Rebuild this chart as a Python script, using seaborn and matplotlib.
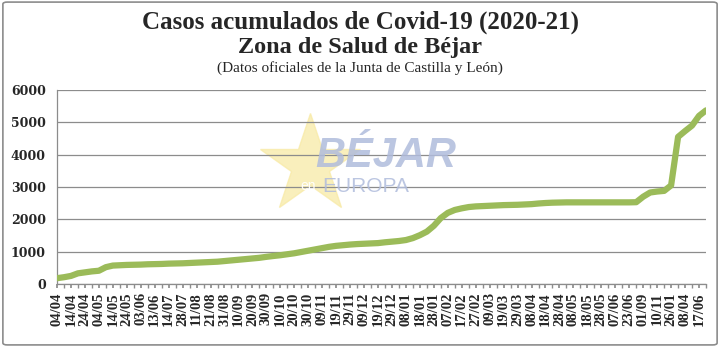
import numpy as np
import pandas as pd
import matplotlib
matplotlib.use("Agg")
import matplotlib.pyplot as plt
import seaborn as sns
from matplotlib.patches import FancyBboxPatch
from matplotlib.lines import Line2D

# ---- data ----
tick_labels = ["04/04", "14/04", "24/04", "04/05", "14/05", "24/05", "03/06", "13/06",
               "14/07", "28/07", "11/08", "21/08", "31/08", "10/09", "20/09", "30/09",
               "10/10", "20/10", "30/10", "09/11", "19/11", "29/11", "09/12", "19/12",
               "29/12", "08/01", "18/01", "28/01", "07/02", "17/02", "27/02", "09/03",
               "19/03", "29/03", "08/04", "18/04", "28/04", "08/05", "18/05", "28/05",
               "07/06", "23/06", "01/09", "10/11", "26/01", "08/04", "17/06"]

casos = [180, 210, 250, 330, 360, 390, 410, 520, 570, 580,
         590, 595, 600, 610, 615, 620, 630, 635, 640, 650,
         660, 670, 680, 690, 710, 730, 750, 770, 790, 810,
         840, 866, 890, 920, 950, 990, 1030, 1070, 1110, 1150,
         1180, 1200, 1220, 1235, 1245, 1255, 1265, 1290, 1310, 1330,
         1360, 1420, 1510, 1620, 1800, 2040, 2200, 2290, 2340, 2380,
         2400, 2410, 2420, 2430, 2440, 2445, 2450, 2460, 2470, 2490,
         2505, 2515, 2520, 2525, 2525, 2525, 2525, 2525, 2525, 2525,
         2525, 2525, 2525, 2530, 2700, 2830, 2860, 2880, 3050, 4550,
         4730, 4900, 5200, 5370]

title1 = "Casos acumulados de Covid-19 (2020-21)"
title2 = "Zona de Salud de Béjar"
title3 = "(Datos oficiales de la Junta de Castilla y León)"

df = pd.DataFrame({"idx": np.arange(len(casos)), "casos": casos})

sns.set_theme(style="white")
plt.rcParams["font.family"] = ["Liberation Serif", "DejaVu Serif"]

fig = plt.figure(figsize=(7.2, 3.47), dpi=100)
ax = fig.add_axes([57 / 720, 1 - 284 / 347, (706 - 57) / 720, (284 - 90) / 347])

# chart-area border
fig.add_artist(FancyBboxPatch((0.004, 0.006), 0.992, 0.988, boxstyle="round,pad=0,rounding_size=0.006",
                              transform=fig.transFigure, fill=False, edgecolor="#8c8c8c", lw=1.2))

# watermark (decoration)
fig.add_artist(Line2D([310 / 720], [1 - 165 / 347], marker="*", markersize=75,
                      color="#f8eaa6", alpha=0.75, lw=0, transform=fig.transFigure, zorder=0))
wm = dict(transform=fig.transFigure, zorder=0)
fig.text(386 / 720, 1 - 156 / 347, "BÉJAR", fontsize=30, color="#b0bcdc", alpha=0.85,
         ha="center", va="center", family="Liberation Sans", weight="bold", style="italic", **wm)
fig.text(366 / 720, 1 - 187 / 347, "EUROPA", fontsize=15, color="#b0bcdc", alpha=0.85,
         ha="center", va="center", family="Liberation Sans", **wm)
fig.text(308 / 720, 1 - 186 / 347, "en", fontsize=10, color="white", alpha=0.95,
         ha="center", va="center", family="Liberation Sans", **wm)

ax.patch.set_alpha(0)
sns.lineplot(data=df, x="idx", y="casos", ax=ax, color="#9bbb59", lw=4.5,
             solid_capstyle="round", solid_joinstyle="round", zorder=3)

ax.set_xlim(0, len(casos) - 1)
ax.set_ylim(0, 6000)
ax.set_yticks(range(0, 6001, 1000))
ax.set_yticklabels([str(v) for v in range(0, 6001, 1000)], family="DejaVu Serif",
                   weight="bold", fontsize=9)
ax.set_xticks(np.arange(0, 2 * len(tick_labels), 2))
ax.set_xticklabels(tick_labels, rotation=90, weight="bold", fontsize=10.5)
ax.set_xticks(np.arange(0, len(casos)), minor=True)
ax.tick_params(axis="x", which="both", direction="out", length=3, color="#8c8c8c",
               bottom=True, pad=3)
ax.tick_params(axis="y", length=0, pad=8)
ax.set_xlabel("")
ax.set_ylabel("")
ax.grid(axis="y", color="#8c8c8c", lw=0.9)
ax.grid(axis="x", visible=False)
for s in ["top", "right"]:
    ax.spines[s].set_visible(False)
for s in ["left", "bottom"]:
    ax.spines[s].set_color("#8c8c8c")
    ax.spines[s].set_linewidth(0.9)

fig.text(0.5, 1 - 22 / 347, title1, ha="center", va="center", fontsize=18, weight="bold")
fig.text(0.5, 1 - 47 / 347, title2, ha="center", va="center", fontsize=17.5, weight="bold")
fig.text(0.5, 1 - 68 / 347, title3, ha="center", va="center", fontsize=11)

fig.savefig("out.png", dpi=100)
